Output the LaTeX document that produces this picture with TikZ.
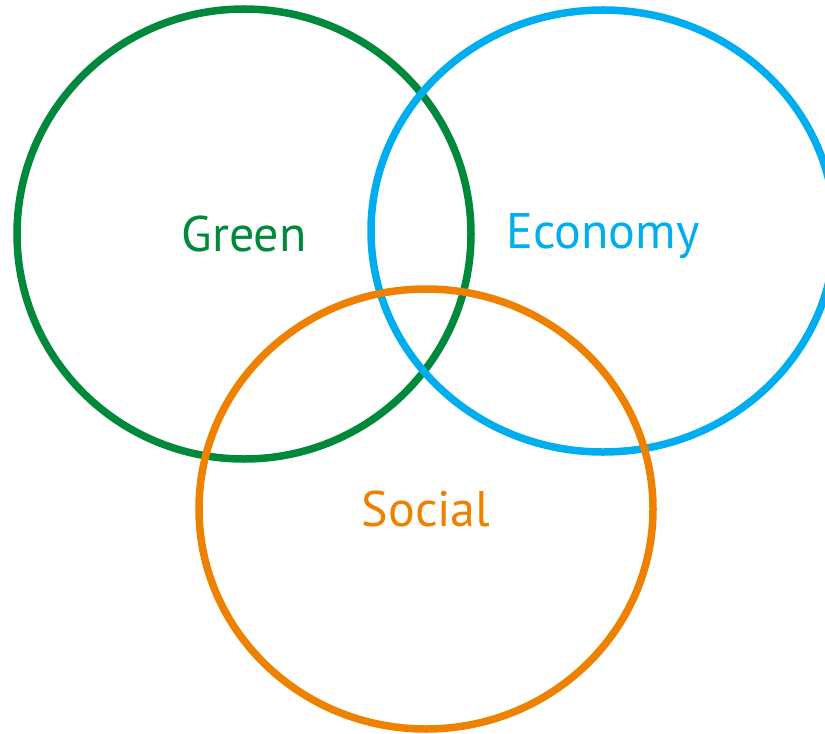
\documentclass[tikz,border=0pt]{standalone}
\usepackage{fontspec}
\setsansfont{PT Sans}
\usetikzlibrary{shapes.geometric}
\definecolor{cgreen}{RGB}{0,137,59}
\definecolor{cblue}{RGB}{0,174,239}
\definecolor{corange}{RGB}{238,130,0}

\begin{document}
\begin{tikzpicture}[
    x=1bp, y=-1bp,
    font=\sffamily,
    v/.style={
        draw, ellipse, line width=7.5bp,
        inner sep=0pt, text depth=0pt,
        font=\sffamily\fontsize{50bp}{60bp}\selectfont
    },
    g/.style={v, color=cgreen, minimum width=454bp, minimum height=450bp},
    b/.style={v, color=cblue, minimum width=464bp, minimum height=442bp},
    o/.style={v, color=corange, minimum width=454bp, minimum height=440bp}
]

    \useasboundingbox (0,0) rectangle (825,734);

    \node [g] (green)   at (244, 234) {Green};
    \node [b] (economy) at (603, 231) {Economy};
    \node [o] (social)  at (426, 509) {Social};

\end{tikzpicture}
\end{document}
